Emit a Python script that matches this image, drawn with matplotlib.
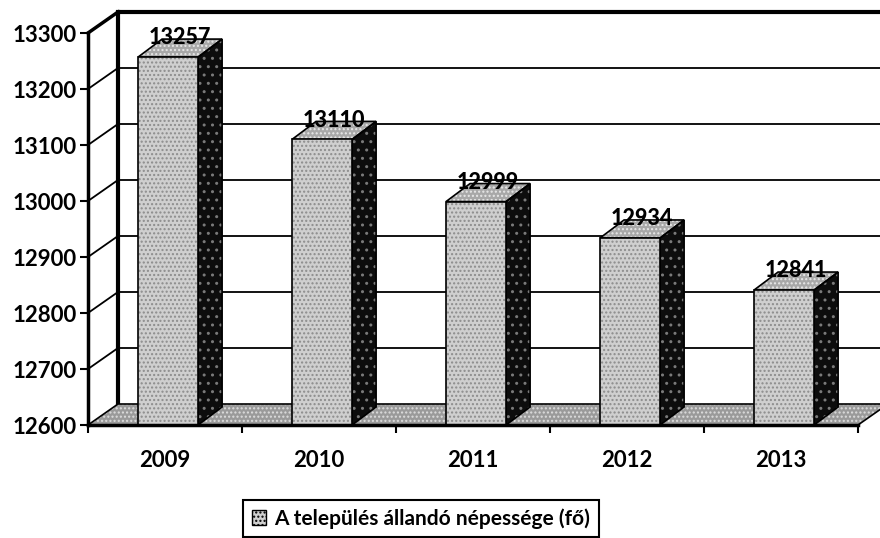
import matplotlib
matplotlib.use("Agg")
import matplotlib.pyplot as plt
from matplotlib.patches import Polygon, Patch
import numpy as np

years = ["2009", "2010", "2011", "2012", "2013"]
values = [13257, 13110, 12999, 12934, 12841]
yticks = [12600, 12700, 12800, 12900, 13000, 13100, 13200, 13300]
legend_label = "A település állandó népessége (fő)"

FONT = "Lato"
plt.rcParams["font.family"] = [FONT, "DejaVu Sans"]
plt.rcParams["hatch.linewidth"] = 1.0

fig = plt.figure(figsize=(8.8, 5.38), dpi=100)
ax = fig.add_axes([88 / 880, (538 - 425) / 538, 770 / 880, 392 / 538])
ymin, ymax = yticks[0], yticks[-1]
ax.set_xlim(-0.5, len(years) - 0.5)
ax.set_ylim(ymin, ymax)

# 3D offsets (data units)
bdx, bdy = 30 / 154, 21 / 0.56      # back wall depth
dx, dy = 24 / 154, 18 / 0.56        # bar depth
bw = 0.39                            # bar front width
xoff = 0.02

x0, x1 = -0.5, len(years) - 0.5

def poly(pts, fc, hatch=None, hc="#777777", ec="black", lw=1.2, z=2):
    if hatch:
        ax.add_patch(Polygon(pts, closed=True, facecolor=fc, hatch=hatch,
                             edgecolor=hc, linewidth=0, clip_on=False, zorder=z))
        ax.add_patch(Polygon(pts, closed=True, facecolor="none",
                             edgecolor=ec, linewidth=lw, clip_on=False, zorder=z + 0.01))
    else:
        ax.add_patch(Polygon(pts, closed=True, facecolor=fc,
                             edgecolor=ec, linewidth=lw, clip_on=False, zorder=z))

# back wall gridlines
for t in yticks[1:]:
    ax.plot([x0 + bdx, x1 + bdx + 0.3], [t + bdy, t + bdy], color="black",
            lw=1.3, clip_on=False, zorder=1)
    ax.plot([x0, x0 + bdx], [t, t + bdy], color="black", lw=1.3,
            clip_on=False, zorder=1)
# back wall top edge and left edge
ax.plot([x0 + bdx, x1 + bdx + 0.3], [ymax + bdy, ymax + bdy], color="black",
        lw=3, clip_on=False, zorder=1, solid_capstyle="butt")
ax.plot([x0 + bdx, x0 + bdx], [ymin + bdy, ymax + bdy], color="black",
        lw=3, clip_on=False, zorder=1)
ax.plot([x0, x0 + bdx], [ymax, ymax + bdy], color="black",
        lw=2.5, clip_on=False, zorder=1)

# floor
poly([(x0, ymin), (x1, ymin), (x1 + bdx, ymin + bdy), (x0 + bdx, ymin + bdy)],
     fc="#9a9a9a", hatch="....", hc="#dddddd", lw=1.2, z=1.5)

# bars
for i, v in enumerate(values):
    xl = i - bw / 2 + xoff
    xr = i + bw / 2 + xoff
    # side face
    poly([(xr, ymin), (xr + dx, ymin + dy), (xr + dx, v + dy), (xr, v)],
         fc="#0d0d0d", hatch="..", hc="#7a7a7a", z=3)
    # top face
    poly([(xl, v), (xr, v), (xr + dx, v + dy), (xl + dx, v + dy)],
         fc="#a8a8a8", hatch="....", hc="#e8e8e8", z=3)
    # front face
    poly([(xl, ymin), (xr, ymin), (xr, v), (xl, v)],
         fc="#cfcfcf", hatch="....", hc="#8c8c8c", z=4)
    ax.text((xl + xr) / 2 + dx / 2, v + dy + 2, f"{v}", ha="center",
            va="center", fontsize=15.5, fontweight=900, color="black",
            zorder=6, clip_on=False)

# axes styling
for s in ["top", "right"]:
    ax.spines[s].set_visible(False)
ax.spines["left"].set_linewidth(2.5)
ax.spines["bottom"].set_linewidth(2.5)
ax.spines["left"].set_zorder(5)
ax.spines["bottom"].set_zorder(5)
ax.set_yticks(yticks)
ax.set_yticklabels([str(t) for t in yticks], fontsize=16, fontweight="bold")
ax.tick_params(axis="y", length=6, width=1.5, pad=2)
ax.set_xticks(range(len(years)))
ax.set_xticklabels(years, fontsize=16, fontweight="bold")
ax.set_xticks(np.arange(x0, x1 + 0.01, 1.0), minor=True)
ax.tick_params(axis="x", which="major", length=0, pad=18)
ax.tick_params(axis="x", which="minor", length=6, width=1.5)
ax.patch.set_visible(False)

handle = Patch(facecolor="#cfcfcf", edgecolor="black", hatch="....")
leg = fig.legend([handle], [legend_label], loc="upper center",
                 bbox_to_anchor=(421 / 880, 1 - 500 / 538),
                 frameon=True, fancybox=False, framealpha=1,
                 edgecolor="black", prop={"size": 15, "weight": "bold"},
                 handlelength=0.7, handleheight=0.7, handletextpad=0.4,
                 borderpad=0.4, borderaxespad=0)
leg.get_frame().set_linewidth(1.5)

fig.savefig("out.png", dpi=100)
